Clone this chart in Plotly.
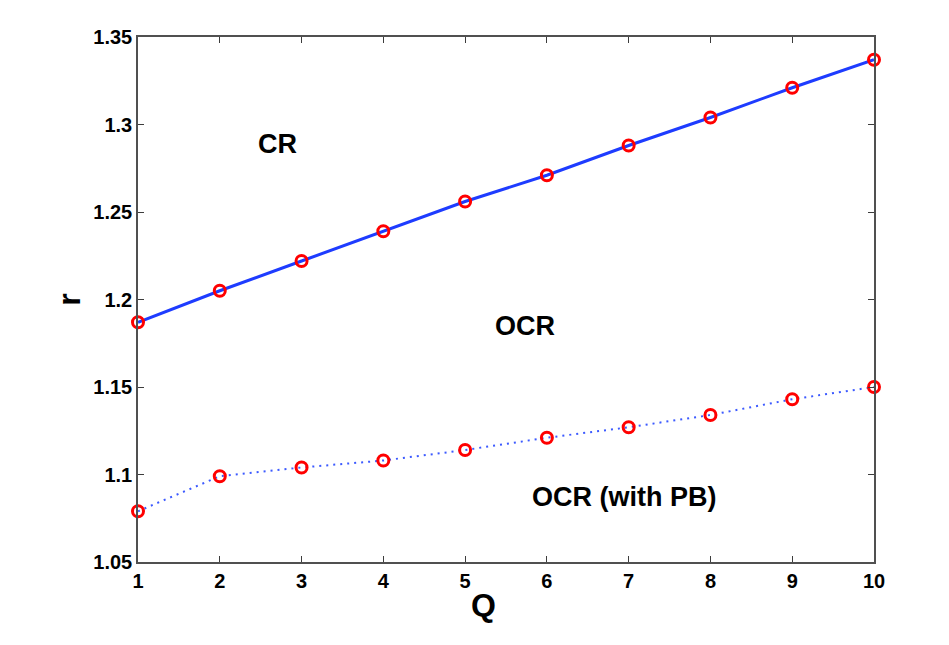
import plotly.graph_objects as go

# Q values and the two boundaries
q = [1, 2, 3, 4, 5, 6, 7, 8, 9, 10]
r_cr = [1.187, 1.205, 1.222, 1.239, 1.256, 1.271, 1.288, 1.304, 1.321, 1.337]
r_pb = [1.079, 1.099, 1.104, 1.108, 1.114, 1.121, 1.127, 1.134, 1.143, 1.150]

y_ticks = [1.05, 1.1, 1.15, 1.2, 1.25, 1.3, 1.35]
y_ticktext = ['1.05', '1.1', '1.15', '1.2', '1.25', '1.3', '1.35']

font = 'Liberation Sans'

fig = go.Figure()

fig.add_trace(go.Scatter(
    x=q, y=r_cr, mode='lines+markers',
    line=dict(color='rgb(30,60,255)', width=3),
    marker=dict(symbol='circle-open', size=11, color='red', line=dict(width=3, color='red')),
    cliponaxis=False
))
fig.add_trace(go.Scatter(
    x=q, y=r_pb, mode='lines+markers',
    line=dict(color='rgb(60,90,255)', width=2, dash='2px,5px'),
    marker=dict(symbol='circle-open', size=11, color='red', line=dict(width=3, color='red')),
    cliponaxis=False
))

labels = [('CR', 2.71, 1.289), ('OCR', 5.73, 1.185), ('OCR (with PB)', 6.94, 1.087)]
for txt, x, y in labels:
    fig.add_annotation(x=x, y=y, text='<b>' + txt + '</b>', showarrow=False,
                       font=dict(family=font, size=27, color='black'))

# x title sits a little left of centre in the original
fig.add_annotation(x=0.47, y=-0.082, xref='paper', yref='paper', text='<b>Q</b>',
                   showarrow=False, yanchor='middle',
                   font=dict(family=font, size=32, color='black'))

axis_common = dict(
    showline=True, linecolor='rgb(80,80,80)', linewidth=1.5, mirror='ticks',
    ticks='inside', ticklen=6, tickcolor='rgb(60,60,60)', showgrid=False, zeroline=False,
    tickfont=dict(family=font, size=20, color='black'),
)

fig.update_layout(
    width=949, height=645,
    plot_bgcolor='white', paper_bgcolor='white',
    showlegend=False,
    margin=dict(l=130, r=83, t=29, b=91),
    xaxis=dict(range=[1, 10], tickvals=q, ticktext=['<b>%d</b>' % v for v in q],
               **axis_common),
    yaxis=dict(range=[1.05, 1.35], tickvals=y_ticks, ticktext=['<b>' + t + '</b>' for t in y_ticktext],
               title=dict(text='<b>r</b>', font=dict(family=font, size=32, color='black'), standoff=3),
               **axis_common),
)

fig.write_html("out.html")
